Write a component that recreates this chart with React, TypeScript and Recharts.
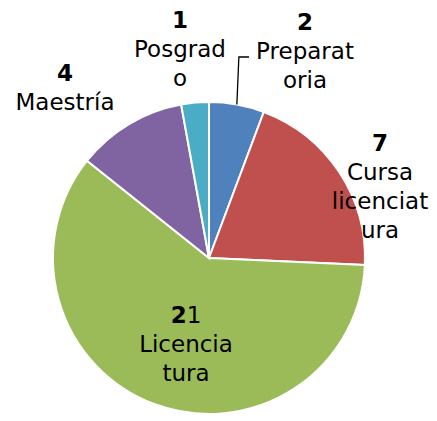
import { Cell, Pie, PieChart } from "recharts";

const categories = ["Preparatoria", "Cursa licenciatura", "Licenciatura", "Maestría", "Posgrado"];
const counts = [2, 7, 21, 4, 1];
// how the category names wrap in the label boxes
const wrappedNames = [["Preparat", "oria"], ["Cursa", "licenciat", "ura"], ["Licencia", "tura"], ["Maestría"], ["Posgrad", "o"]];

const colors = ["#4F81BD", "#C0504D", "#9BBB59", "#8064A2", "#4BACC6"];

const data = categories.map((name, i) => ({ name, value: counts[i], lines: wrappedNames[i] }));

// label block position (value line) relative to pie centre
const labelOffsets = [
  { dx: 96, dy: -236 },
  { dx: 171, dy: -115 },
  { dx: -23, dy: 57 },
  { dx: -144, dy: -185 },
  { dx: -29, dy: -238 }
];

const FONT = "'DejaVu Sans', sans-serif";
const LINE = 29;
const SIZE = 23;
const RAD = Math.PI / 180;

function renderLabel(props: any) {
  const { cx, cy, midAngle, outerRadius, index, value } = props;
  const off = labelOffsets[index];
  const x = cx + off.dx;
  const y = cy + off.dy;
  const lines: string[] = data[index].lines;
  const valueText = String(value);

  let leader = null;
  if (index === 0) {
    const ox = cx + outerRadius * Math.cos(-midAngle * RAD);
    const oy = cy + outerRadius * Math.sin(-midAngle * RAD);
    const ey = y + LINE + 6;
    leader = <polyline points={`${ox},${oy} ${ox + 2},${ey} ${x - 56},${ey}`} fill="none" stroke="#000" strokeWidth={1.3} />;
  }

  return (
    <g key={`lbl-${index}`}>
      {leader}
      <text x={x} y={y} textAnchor="middle" dominantBaseline="central" fontFamily={FONT} fontSize={SIZE} fill="#000">
        {valueText.length > 1 ? (
          <>
            <tspan fontWeight="bold">{valueText[0]}</tspan>
            <tspan>{valueText.slice(1)}</tspan>
          </>
        ) : (
          <tspan fontWeight="bold">{valueText}</tspan>
        )}
      </text>
      {lines.map((t, i) => (
        <text key={i} x={x} y={y + LINE * (i + 1)} textAnchor="middle" dominantBaseline="central" fontFamily={FONT} fontSize={SIZE} fill="#000">
          {t}
        </text>
      ))}
    </g>
  );
}

export default function App() {
  return (
    <div style={{ position: "absolute", left: 0, top: 0, width: 437, height: 421, background: "#fff" }}>
      <PieChart width={437} height={421} margin={{ top: 0, right: 0, bottom: 0, left: 0 }}>
        <Pie
          data={data}
          dataKey="value"
          nameKey="name"
          cx={209}
          cy={258}
          outerRadius={156}
          startAngle={90}
          endAngle={-270}
          stroke="#fff"
          strokeWidth={2}
          label={renderLabel}
          labelLine={false}
          isAnimationActive={false}
        >
          {data.map((d, i) => (
            <Cell key={d.name} fill={colors[i]} />
          ))}
        </Pie>
      </PieChart>
    </div>
  );
}
